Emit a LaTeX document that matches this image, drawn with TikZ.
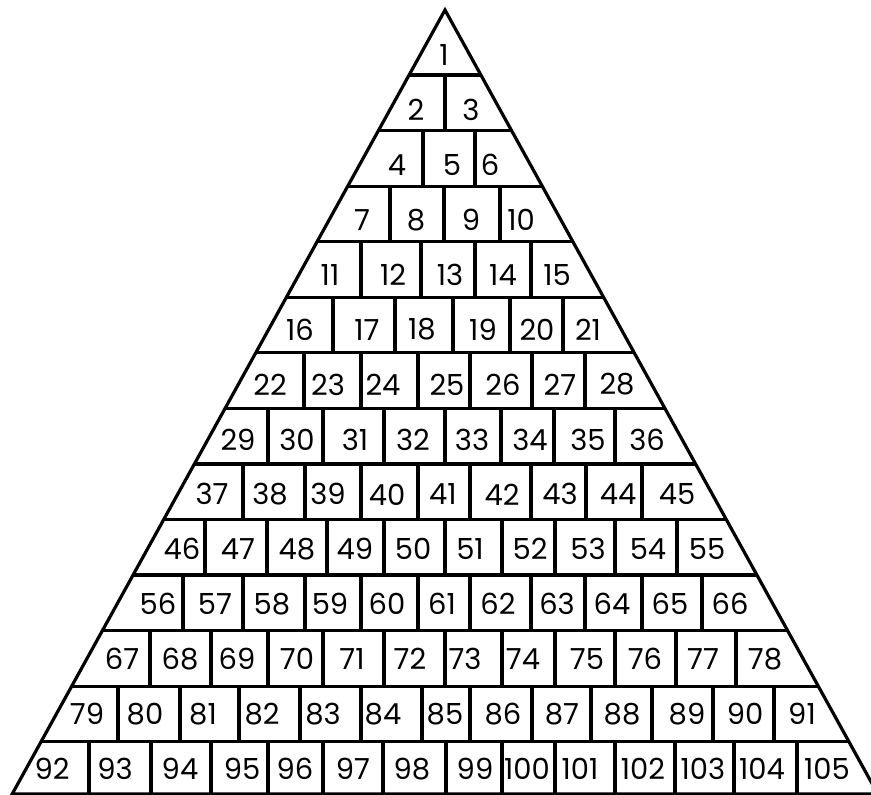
\documentclass[tikz,border=0pt]{standalone}
\usepackage{fontspec}
\setmainfont{Poppins}
\usetikzlibrary{calc}

\begin{document}
\begin{tikzpicture}[
  x=1pt, y=-1pt,
  wall/.style={line width=3.2pt, line join=miter},
  num/.style={font=\fontsize{29}{31}\selectfont, inner sep=0pt}
]
\useasboundingbox (0,0) rectangle (871,795);
\coordinate (apex) at (445,10);
\coordinate (bl) at (12.2,794);
\coordinate (br) at (877.8,794);

% horizontal courses, cut to the triangle
\begin{scope}
  \clip (apex) -- (bl) -- (br) -- cycle;
  \foreach \k in {1,...,13}
    \draw[wall] (0,{75+55.56*(\k-1)}) -- (900,{75+55.56*(\k-1)});
\end{scope}

% vertical joints, row by row
\foreach \row/\xs in {2/{445}, 3/{423,475}, 4/{390,444,500},
    5/{361,421,475,531}, 6/{333,395,453,510,563},
    7/{304,361,418,470,532,585}, 8/{268,323,384,445,501,554,615},
    9/{243,305,361,418,470,531,586,642},
    10/{205,267,327,384,445,502,555,615,677},
    11/{183,243,305,361,418,470,531,585,642,702},
    12/{150,211,268,323,384,445,502,555,615,676,736},
    13/{118,180,239,300,361,422,470,532,591,652,713,774},
    14/{89,151,211,268,323,383,446,502,555,615,675,734,797}} {
  \pgfmathsetmacro{\ya}{75+55.56*(\row-2)}
  \pgfmathsetmacro{\yb}{min(75+55.56*(\row-1),794)}
  \foreach \x in \xs
    \draw[wall] (\x,\ya) -- (\x,\yb);
}

\draw[wall] (apex) -- (bl) -- (br) -- cycle;

% numbers
\foreach \row/\xs in {1/{444}, 2/{416,471}, 3/{397,452,490},
    4/{362,416,471,521}, 5/{330,393,450,503,557},
    6/{300,367,422,483,537,588}, 7/{270,328,383,447,503,560,617},
    8/{238,297,355,413,472,530,588,647},
    9/{212,270,328,387,443,502,560,618,677},
    10/{182,238,297,355,413,470,530,588,648,707},
    11/{158,215,272,330,387,442,498,557,612,670,730},
    12/{122,180,237,297,352,410,465,523,587,645,703,765},
    13/{87,145,203,262,323,383,445,503,562,622,687,745,802},
    14/{52,115,180,242,295,353,412,475,527,580,643,703,762,827}} {
  \pgfmathsetmacro{\yl}{55+54.92*(\row-1)}
  \foreach \x [count=\i] in \xs {
    \pgfmathtruncatemacro{\n}{\row*(\row-1)/2+\i}
    \node[num] (n\n) at (\x,\yl) {\n};
  }
}
\end{tikzpicture}
\end{document}
